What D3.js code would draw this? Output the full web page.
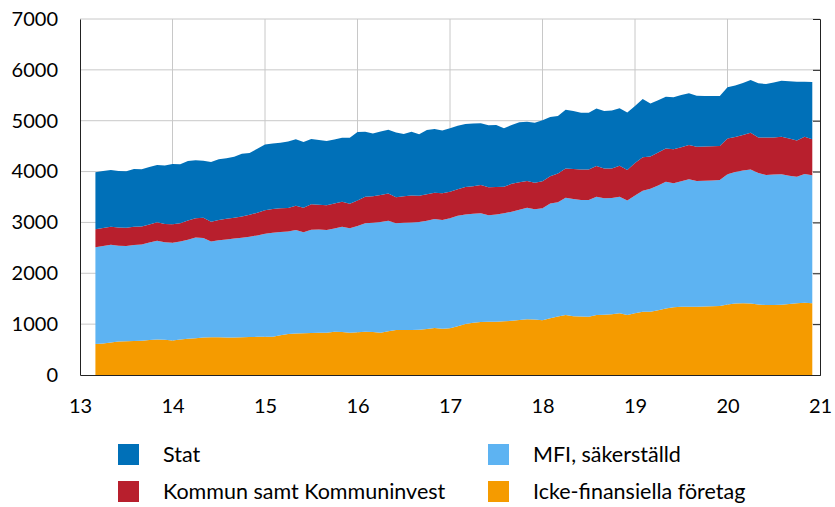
<!DOCTYPE html>
<html>
<head>
<meta charset="utf-8">
<script src="https://cdn.jsdelivr.net/npm/d3@7"></script>
<style>
  body { margin: 0; background: #fff; }
  text { font-family: Lato, sans-serif; fill: #000; }
</style>
</head>
<body>
<div id="chart"></div>
<script>
// monthly observations, first one is month 2 of 2013 ("13" on the axis)
const firstMonth = 2;

const stat = [1121, 1120, 1114, 1110, 1110, 1135, 1123, 1130, 1125, 1150, 1185, 1160, 1170, 1145, 1125, 1175,
  1190, 1190, 1200, 1235, 1215, 1260, 1290, 1285, 1285, 1305, 1305, 1290, 1285, 1270, 1260, 1260, 1260, 1300,
  1350, 1280, 1235, 1250, 1250, 1275, 1225, 1255, 1209, 1260, 1252, 1235, 1245, 1250, 1240, 1235, 1213, 1220,
  1220, 1148, 1155, 1180, 1166, 1178, 1200, 1165, 1135, 1155, 1140, 1112, 1112, 1132, 1132, 1138, 1130, 1130,
  1120, 1145, 1045, 1025, 1015, 1023, 1025, 1016, 1000, 990, 985, 983, 1010, 1010, 1020, 1035, 1063, 1054,
  1080, 1099, 1125, 1158, 1079, 1126];

const kommun = [354, 355, 354, 360, 357, 360, 354, 355, 364, 360, 367, 360, 380, 375, 395, 390, 400, 405, 408,
  415, 430, 445, 465, 470, 470, 463, 480, 485, 497, 490, 490, 490, 490, 480, 500, 520, 522, 530, 536, 510, 520,
  530, 518, 520, 518, 525, 525, 520, 540, 540, 555, 550, 540, 522, 550, 540, 524, 525, 530, 540, 565, 574, 590,
  603, 603, 603, 583, 584, 610, 600, 640, 655, 635, 650, 655, 667, 670, 675, 675, 677, 675, 668, 705, 690, 700,
  722, 702, 733, 730, 741, 730, 710, 736, 708];

const mfi = [1900, 1915, 1922, 1880, 1876, 1887, 1893, 1915, 1941, 1915, 1918, 1925, 1945, 1980, 1960, 1885,
  1910, 1927, 1947, 1958, 1975, 1995, 2022, 2043, 2030, 2017, 2035, 1983, 2032, 2030, 2018, 2032, 2070, 2053,
  2088, 2133, 2148, 2178, 2174, 2100, 2110, 2115, 2118, 2130, 2143, 2140, 2163, 2170, 2150, 2145, 2140, 2092,
  2107, 2125, 2145, 2170, 2195, 2167, 2202, 2255, 2245, 2306, 2305, 2292, 2294, 2327, 2290, 2283, 2293, 2250,
  2315, 2380, 2415, 2450, 2490, 2440, 2470, 2504, 2475, 2473, 2475, 2478, 2560, 2585, 2610, 2635, 2585, 2559,
  2564, 2565, 2525, 2490, 2530, 2516];

const foretag = [610, 620, 640, 660, 662, 668, 675, 690, 700, 695, 680, 700, 715, 725, 735, 740, 740, 738, 735,
  742, 745, 750, 753, 752, 780, 805, 815, 822, 826, 830, 832, 848, 845, 832, 842, 852, 845, 832, 860, 885, 885,
  885, 890, 905, 922, 910, 917, 960, 1005, 1025, 1040, 1048, 1048, 1055, 1065, 1080, 1095, 1090, 1078, 1115,
  1150, 1180, 1155, 1148, 1146, 1178, 1185, 1195, 1212, 1180, 1215, 1245, 1245, 1275, 1310, 1330, 1340, 1343,
  1340, 1345, 1350, 1356, 1385, 1405, 1410, 1408, 1385, 1376, 1376, 1380, 1395, 1410, 1420, 1410];

const seriesNames = ["Stat", "Kommun samt Kommuninvest", "MFI, säkerställd", "Icke-finansiella företag"];
const colors = ["#0070b8", "#b81f2d", "#5db3f2", "#f59b00"];
const yTicks = [0, 1000, 2000, 3000, 4000, 5000, 6000, 7000];
const xTicks = [13, 14, 15, 16, 17, 18, 19, 20, 21];

const margin = { top: 19, right: 15, bottom: 132, left: 80 };
const width = 835 - margin.left - margin.right,
    height = 507 - margin.top - margin.bottom;

const svg = d3.select("#chart")
    .append("svg")
    .attr("width", 835)
    .attr("height", 507)
    .append("g")
    .attr("transform", `translate(${margin.left}, ${margin.top})`);

// rows for the stack, bottom series first
let data = [];
for (let i = 0; i < stat.length; i++) {
    data.push({
        t: 13 + (firstMonth + i) / 12,
        "Icke-finansiella företag": foretag[i],
        "MFI, säkerställd": mfi[i],
        "Kommun samt Kommuninvest": kommun[i],
        "Stat": stat[i]
    });
}

const x = d3.scaleLinear().domain([13, 21]).range([0, width]);
const y = d3.scaleLinear().domain([0, 7000]).range([height, 0]);

// grid
svg.append("g")
    .selectAll("line")
    .data(yTicks.slice(1))
    .join("line")
    .attr("x1", 0).attr("x2", width)
    .attr("y1", d => y(d)).attr("y2", d => y(d))
    .style("stroke", "#c8c8c8");
svg.append("g")
    .selectAll("line")
    .data(xTicks.slice(1, -1))
    .join("line")
    .attr("x1", d => x(d)).attr("x2", d => x(d))
    .attr("y1", 0).attr("y2", height)
    .style("stroke", "#c8c8c8");

// stacked areas
const stackKeys = seriesNames.slice().reverse();
const stacked = d3.stack().keys(stackKeys)(data);

const area = d3.area()
    .x(d => x(d.data.t))
    .y0(d => y(d[0]))
    .y1(d => y(d[1]));

svg.append("g")
    .selectAll("path")
    .data(stacked)
    .join("path")
    .attr("d", area)
    .style("fill", d => colors[seriesNames.indexOf(d.key)]);

// axes
svg.append("g")
    .call(d3.axisLeft(y).tickValues(yTicks).tickSize(0).tickPadding(22).tickFormat(d3.format("d")))
    .call(g => g.select(".domain").attr("stroke", "#222"))
    .selectAll("text")
    .style("font-size", "20px")
    .style("font-family", "Lato, sans-serif");

svg.append("g")
    .attr("transform", `translate(${width}, 0)`)
    .call(d3.axisLeft(y).tickValues(yTicks).tickSize(7).tickFormat(""))
    .call(g => g.selectAll("line, path").attr("stroke", "#222"));

svg.append("g")
    .attr("transform", `translate(0, ${height})`)
    .call(d3.axisBottom(x).tickValues(xTicks).tickSize(0).tickPadding(24))
    .call(g => g.select(".domain").attr("stroke", "#222"))
    .selectAll("text")
    .style("font-size", "20px")
    .style("font-family", "Lato, sans-serif");

// legend
const legendPos = [[118, 444], [118, 481], [488, 444], [488, 481]];
const legend = d3.select("svg").append("g");
const item = legend.selectAll("g")
    .data(seriesNames)
    .join("g")
    .attr("transform", (d, i) => `translate(${legendPos[i][0]}, ${legendPos[i][1]})`);
item.append("rect")
    .attr("width", 21).attr("height", 21)
    .style("fill", (d, i) => colors[i]);
item.append("text")
    .attr("x", 45).attr("y", 17.5)
    .style("font-size", "21.5px")
    .text(d => d);
</script>
</body>
</html>
